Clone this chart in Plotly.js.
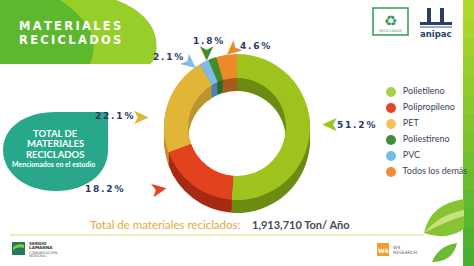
<!DOCTYPE html>
<html>
<head>
<meta charset="utf-8">
<script src="https://cdn.plot.ly/plotly-3.0.1.min.js"></script>
<style>html,body{margin:0;padding:0;background:#fff;}#chart{width:474px;height:266px;}</style>
</head>
<body>
<div id="chart"></div>
<script>
// ---- data ----
const categories = ['Polietileno', 'Polipropileno', 'PET', 'PVC', 'Poliestireno', 'Todos los demás'];
const percentages = [51.2, 18.2, 22.1, 2.1, 1.8, 4.6];
const legendOrder = ['Polietileno', 'Polipropileno', 'PET', 'Poliestireno', 'PVC', 'Todos los demás'];
const titleLines = ['MATERIALES', 'RECICLADOS'];
const blobLines = ['TOTAL DE', 'MATERIALES', 'RECICLADOS'];
const blobSub = 'Mencionados en el estudio';
const totalLabel = 'Total de materiales reciclados:';
const totalValue = '1,913,710 Ton/ Año';

// ---- styles ----
const topColors = {'Polietileno':'#9fc31d','Polipropileno':'#e2421d','PET':'#e1b637','PVC':'#80bbe6','Poliestireno':'#3f8d2d','Todos los demás':'#eb8a29'};
const sideColors = {'Polietileno':'#6c8b13','Polipropileno':'#a52b12','PET':'#bb9530','PVC':'#4d82b2','Poliestireno':'#2b6b1f','Todos los demás':'#a85c1b'};
const legendColors = {'Polietileno':'#a8d04a','Polipropileno':'#e8402a','PET':'#f0c55a','Poliestireno':'#3f8c3a','PVC':'#72bde9','Todos los demás':'#f08c35'};
// label placement (pixel coords): text x,y ; arrow x,y,angle
const labelPlace = {
  'Polietileno':     {tx:356, ty:125, ax:330, ay:125, ang:180},
  'Polipropileno':   {tx:104, ty:189, ax:159, ay:189, ang:-10},
  'PET':             {tx:114, ty:116, ax:141, ay:117, ang:0},
  'PVC':             {tx:168, ty:57,  ax:190, ay:63,  ang:40},
  'Poliestireno':    {tx:208, ty:41,  ax:207, ay:53,  ang:90},
  'Todos los demás': {tx:255, ty:46,  ax:233, ay:50,  ang:140}
};

const W = 474, H = 266;
const cx = 237, cy = 127, R = 73, depth = 13;
const sp = s => s.split('').join('\u2009');

function dom(offset){
  return {x:[(cx-R)/W,(cx+R)/W], y:[1-(cy+offset+R)/H, 1-(cy+offset-R)/H]};
}

const traces = [];
// 3D side layers (darker copies shifted down)
for (let d = depth; d > 0; d -= 2) {
  traces.push({type:'pie', labels:categories, values:percentages, sort:false, direction:'clockwise', rotation:0,
    hole:0.67, domain:dom(d), textinfo:'none', hoverinfo:'skip', showlegend:false,
    marker:{colors:categories.map(c=>sideColors[c]), line:{width:0}}});
}
// top face
traces.push({type:'pie', labels:categories, values:percentages, sort:false, direction:'clockwise', rotation:0,
  hole:0.67, domain:dom(0), textinfo:'none', hoverinfo:'label+percent', showlegend:false,
  marker:{colors:categories.map(c=>topColors[c]), line:{width:0}}});

// manual legend
const legX = 391, legY0 = 92, legStep = 16;
traces.push({type:'scatter', mode:'markers+text', xaxis:'x', yaxis:'y',
  x:legendOrder.map(()=>legX), y:legendOrder.map((_,i)=>legY0+i*legStep),
  text:legendOrder.map(c=>'  '+c), textposition:'middle right',
  textfont:{family:'Lato, sans-serif', size:9, color:'#3b4262'},
  marker:{size:10, color:legendOrder.map(c=>legendColors[c])},
  hoverinfo:'skip', showlegend:false, cliponaxis:false});

const shapes = [];
// top-left green leaf shape
shapes.push({type:'path', xref:'x', yref:'y', layer:'below', line:{width:0}, fillcolor:'#5cb92e',
  path:'M 0 0 L 116 0 Q 152 14 156 40 Q 158 58 150 64 L 0 64 Z'});
shapes.push({type:'path', xref:'x', yref:'y', layer:'below', line:{width:0}, fillcolor:'rgba(190,222,40,0.6)',
  path:'M 60 0 L 116 0 Q 152 14 156 40 Q 158 58 150 64 L 90 64 Q 105 30 60 0 Z'});
// right bar gradient
const barTop = [176,216,40], barBot = [72,176,48];
for (let i = 0; i < 14; i++) {
  const t = i/13; const c = barTop.map((v,k)=>Math.round(v+(barBot[k]-v)*t));
  shapes.push({type:'rect', xref:'x', yref:'y', layer:'below', line:{width:0}, fillcolor:`rgb(${c})`,
    x0:463, x1:474, y0:i*H/14, y1:(i+1)*H/14+0.5});
}
// teal blob
shapes.push({type:'path', xref:'x', yref:'y', layer:'below', line:{width:0}, fillcolor:'#28a78a',
  path:'M 108 112 L 108 150 C 108 174 86 191 56 191 C 24 191 3 172 3 150 C 3 128 24 112 56 112 Z'});
// bottom rule
shapes.push({type:'line', xref:'x', yref:'y', layer:'below', x0:10, x1:424, y0:235, y1:235, line:{color:'#e9e6a8', width:1.5}});
// recycle logo box
shapes.push({type:'rect', xref:'x', yref:'y', layer:'below', x0:373, x1:408, y0:8, y1:35, line:{color:'#2f9a55', width:1.5}, fillcolor:'rgba(0,0,0,0)'});
// anipac symbol
shapes.push({type:'rect', xref:'x', yref:'y', layer:'below', x0:427, x1:431, y0:8, y1:24, line:{width:0}, fillcolor:'#2b3f63'});
shapes.push({type:'rect', xref:'x', yref:'y', layer:'below', x0:440, x1:444, y0:8, y1:24, line:{width:0}, fillcolor:'#2b3f63'});
shapes.push({type:'rect', xref:'x', yref:'y', layer:'below', x0:420, x1:452, y0:22, y1:25, line:{width:0}, fillcolor:'#2b3f63'});
shapes.push({type:'rect', xref:'x', yref:'y', layer:'below', x0:420, x1:452, y0:26, y1:28, line:{width:0}, fillcolor:'#8fb0d0'});
// leaves bottom-right
shapes.push({type:'path', xref:'x', yref:'y', layer:'below', line:{width:0}, fillcolor:'#86c434',
  path:'M 424 233 Q 430 204 464 199 L 464 229 Q 446 241 424 233 Z'});
shapes.push({type:'path', xref:'x', yref:'y', layer:'below', line:{width:0}, fillcolor:'#c6e27a',
  path:'M 424 233 Q 440 214 464 210 L 464 216 Q 444 222 424 233 Z'});
shapes.push({type:'path', xref:'x', yref:'y', layer:'below', line:{width:0}, fillcolor:'#6dbb33',
  path:'M 432 262 Q 438 246 457 243 Q 453 262 432 262 Z'});
// W4 logo square
shapes.push({type:'rect', xref:'x', yref:'y', layer:'below', x0:377, x1:389, y0:243, y1:256, line:{width:0}, fillcolor:'#f0a030'});
// Sergio Lamanna icon
shapes.push({type:'rect', xref:'x', yref:'y', layer:'below', x0:12, x1:25, y0:242, y1:255, line:{width:0}, fillcolor:'#1f7a5a'});
shapes.push({type:'path', xref:'x', yref:'y', layer:'below', line:{width:0}, fillcolor:'#8cc63f',
  path:'M 13 247 Q 18 243 24 245 L 24 248 Q 18 246 13 250 Z'});

const ann = [];
const A = (o) => ann.push(Object.assign({xref:'x', yref:'y', showarrow:false}, o));
// title
titleLines.forEach((t,i)=>A({x:17, y:26+i*14, xanchor:'left', yanchor:'middle', text:'<b>'+sp(t)+'</b>',
  font:{family:'DejaVu Sans, sans-serif', size:11.5, color:'#ffffff'}}));
// blob text
blobLines.forEach((t,i)=>A({x:55, y:133+i*10.5, xanchor:'center', yanchor:'middle', text:'<b>'+t+'</b>',
  font:{family:'Lato, sans-serif', size:9.5, color:'#ffffff'}}));
A({x:53, y:164, xanchor:'center', yanchor:'middle', text:'<b>'+blobSub+'</b>', font:{family:'Lato, sans-serif', size:7, color:'#ffffff'}});
// percent labels + arrows
categories.forEach((c,i)=>{
  const p = labelPlace[c];
  A({x:p.tx, y:p.ty, xanchor:'center', yanchor:'middle', text:'<b>'+sp(percentages[i].toFixed(1)+'%')+'</b>',
    font:{family:'DejaVu Sans, sans-serif', size:9, color:'#2b3866'}});
  A({x:p.ax, y:p.ay, xanchor:'center', yanchor:'middle', text:'➤', textangle:p.ang,
    font:{family:'DejaVu Sans, sans-serif', size:21, color:topColors[c]}});
});
// totals
A({x:243, y:224, xanchor:'right', yanchor:'middle', text:totalLabel, font:{family:'Lato, sans-serif', size:11.5, color:'#e4a83a'}});
A({x:250, y:224, xanchor:'left', yanchor:'middle', text:'<b>'+totalValue+'</b>', font:{family:'Lato, sans-serif', size:11, color:'#454a56'}});
// logos text
A({x:390, y:21, text:'♻', font:{family:'DejaVu Sans', size:15, color:'#2f9a55'}});
A({x:390, y:31, text:'RECICLADOS', font:{family:'DejaVu Sans', size:3.5, color:'#2f9a55'}});
A({x:436, y:34, text:'<b>anipac</b>', font:{family:'DejaVu Sans, sans-serif', size:8.5, color:'#2b3f63'}});
A({x:383, y:250, text:'<b>W4</b>', font:{family:'DejaVu Sans', size:6, color:'#ffffff'}});
A({x:391, y:247, xanchor:'left', text:'W4', font:{family:'DejaVu Sans', size:4.5, color:'#666'}});
A({x:391, y:252, xanchor:'left', text:'RESEARCH', font:{family:'DejaVu Sans', size:4.5, color:'#666'}});
A({x:27, y:243, xanchor:'left', text:'<b>SERGIO</b>', font:{family:'DejaVu Sans', size:4.2, color:'#333'}});
A({x:27, y:247.5, xanchor:'left', text:'<b>LAMANNA</b>', font:{family:'DejaVu Sans', size:4.2, color:'#333'}});
A({x:27, y:252, xanchor:'left', text:'COMUNICACIÓN', font:{family:'DejaVu Sans', size:3.5, color:'#555'}});
A({x:27, y:256, xanchor:'left', text:'INTEGRAL', font:{family:'DejaVu Sans', size:3.5, color:'#555'}});

const layout = {
  width:W, height:H, margin:{l:0,r:0,t:0,b:0}, paper_bgcolor:'#ffffff', plot_bgcolor:'rgba(0,0,0,0)',
  showlegend:false,
  xaxis:{range:[0,W], visible:false, fixedrange:true, domain:[0,1]},
  yaxis:{range:[H,0], visible:false, fixedrange:true, domain:[0,1]},
  shapes:shapes, annotations:ann
};
Plotly.newPlot('chart', traces, layout, {displayModeBar:false, staticPlot:true});
</script>
</body>
</html>
